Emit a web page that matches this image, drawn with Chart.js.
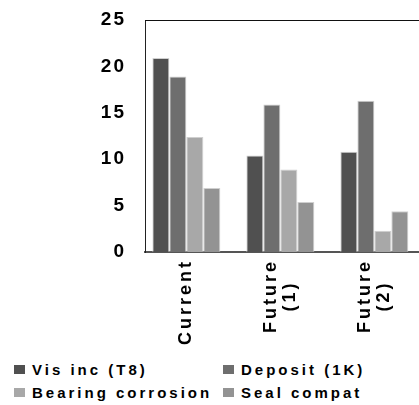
<!DOCTYPE html>
<html>
<head>
<meta charset="utf-8">
<script src="https://cdn.jsdelivr.net/npm/chart.js@4.4.1/dist/chart.umd.min.js"></script>
<style>
    body { margin: 0; width: 419px; height: 405px; overflow: hidden; background: #fff; }
    #wrap { position: relative; width: 428px; height: 352px; }
    #legend {
        position: absolute; left: 14px; top: 358px;
        display: grid; grid-template-columns: 209px auto;
        font-family: Arial, "Liberation Sans", sans-serif;
    }
    .item { display: flex; align-items: center; height: 23px; font-weight: bold; font-size: 15px; letter-spacing: 3px; color: #000; white-space: nowrap; }
    .box { width: 11px; height: 9px; margin-right: 7px; flex: none; }
</style>
</head>
<body>
<div id="wrap"><canvas id="myChart"></canvas></div>
<div id="legend"></div>
<script>
const categories = [['Current'], ['Future', '(1)'], ['Future', '(2)']];
const seriesNames = ['Vis inc (T8)', 'Deposit (1K)', 'Bearing corrosion', 'Seal compat'];
const visInc = [20.9, 10.4, 10.8];
const deposit = [18.9, 15.9, 16.3];
const bearingCorrosion = [12.4, 8.9, 2.3];
const sealCompat = [6.9, 5.4, 4.4];
const yTicks = [0, 5, 10, 15, 20, 25];

const colors = ['#505050', '#6e6e6e', '#a8a8a8', '#939393'];
const FONT = 'Arial, "Liberation Sans", sans-serif';

// top edge of the plot frame
const frame = {
    id: 'frame',
    beforeDraw(chart) {
        chart.ctx.letterSpacing = '2px';
    },
    afterDraw(chart) {
        const ctx = chart.ctx, a = chart.chartArea;
        ctx.save();
        ctx.strokeStyle = '#111';
        ctx.lineWidth = 1;
        ctx.beginPath();
        ctx.moveTo(a.left, Math.round(a.top) + 0.5);
        ctx.lineTo(a.right, Math.round(a.top) + 0.5);
        ctx.stroke();
        ctx.restore();
    }
};

// rotated category labels, lines centred on each other
const xLabels = {
    id: 'xLabels',
    afterDraw(chart) {
        const ctx = chart.ctx, xs = chart.scales.x;
        ctx.save();
        ctx.font = 'bold 18px ' + FONT;
        ctx.letterSpacing = '3px';
        ctx.fillStyle = '#000';
        ctx.textAlign = 'center';
        ctx.textBaseline = 'middle';
        chart.data.labels.forEach((lines, i) => {
            const x = xs.getPixelForTick(i);
            const w = Math.max(...lines.map(l => ctx.measureText(l).width));
            const y = xs.top + 7 + w / 2;
            lines.forEach((line, j) => {
                ctx.save();
                ctx.translate(x + (j - (lines.length - 1) / 2) * 19, y);
                ctx.rotate(-Math.PI / 2);
                ctx.fillText(line, 0, 0);
                ctx.restore();
            });
        });
        ctx.restore();
    }
};

const values = [visInc, deposit, bearingCorrosion, sealCompat];

const chart = new Chart(document.getElementById('myChart'), {
    type: 'bar',
    data: {
        labels: categories,
        datasets: values.map((v, i) => ({
            label: seriesNames[i],
            data: v,
            backgroundColor: colors[i],
            borderColor: '#cfcfcf',
            borderWidth: 1,
            borderSkipped: 'bottom',
            categoryPercentage: 0.723,
            barPercentage: 1
        }))
    },
    options: {
        responsive: true,
        maintainAspectRatio: false,
        animation: false,
        layout: { padding: { top: 20, right: 1, left: 0, bottom: 0 } },
        plugins: { legend: { display: false }, tooltip: { enabled: false } },
        scales: {
            x: {
                grid: { display: false },
                border: { display: true, color: '#555', width: 2 },
                ticks: { display: false },
                afterBuildTicks: (s) => {
                    // first group sits closer to the value axis than a centred slot
                    s._startValue = -0.44;
                    s._valueRange = 3;
                },
                afterFit: (s) => { s.height = 100; }
            },
            y: {
                min: 0,
                max: 25,
                grid: { display: false },
                border: { display: true, color: '#222', width: 1 },
                afterBuildTicks: (s) => { s.ticks = yTicks.map(v => ({ value: v })); },
                afterFit: (s) => {
                    s.width = 145;
                    s.paddingTop = 0;
                    s.paddingBottom = 0;
                },
                ticks: {
                    padding: 11,
                    color: '#000',
                    font: { family: FONT, size: 19, weight: 'bold' }
                }
            }
        }
    },
    plugins: [frame, xLabels]
});

const legend = document.getElementById('legend');
chart.data.datasets.forEach((ds) => {
    const item = document.createElement('div');
    item.className = 'item';
    const box = document.createElement('span');
    box.className = 'box';
    box.style.background = ds.backgroundColor;
    item.appendChild(box);
    item.appendChild(document.createTextNode(ds.label));
    legend.appendChild(item);
});
</script>
</body>
</html>
